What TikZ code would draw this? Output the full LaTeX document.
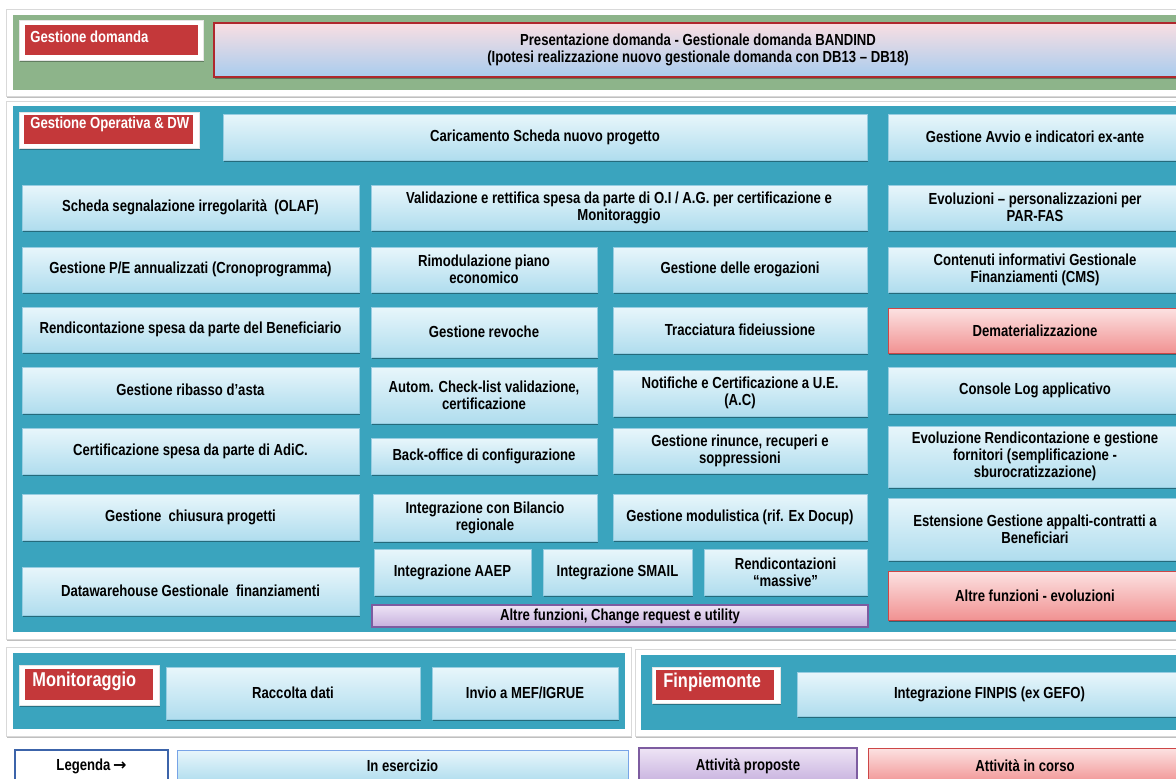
\documentclass[tikz,border=0pt]{standalone}
\usepackage{fontspec}
\setmainfont{Liberation Sans}[FakeStretch=0.82]
\newfontfamily\arrowfont{DejaVu Sans}
\usetikzlibrary{shadows}

\definecolor{panel_green}{RGB}{141,180,138}
\definecolor{panel_teal}{RGB}{58,164,190}
\definecolor{label_red}{RGB}{196,56,58}
\definecolor{box_top}{RGB}{232,246,251}
\definecolor{box_bot}{RGB}{176,221,238}
\definecolor{box_line}{RGB}{150,205,225}
\definecolor{red_top}{RGB}{252,226,226}
\definecolor{red_bot}{RGB}{241,146,146}
\definecolor{red_line}{RGB}{205,70,70}
\definecolor{pur_top}{RGB}{238,228,245}
\definecolor{pur_bot}{RGB}{198,176,222}
\definecolor{pur_line}{RGB}{125,92,160}
\definecolor{pres_top}{RGB}{249,222,226}
\definecolor{pres_bot}{RGB}{168,204,238}
\definecolor{pres_line}{RGB}{175,40,45}
\definecolor{leg_blue}{RGB}{60,100,170}

\begin{document}
\begin{tikzpicture}[x=0.5pt, y=-0.5pt,
    every node/.style={font=\fontsize{8}{8.6}\selectfont\bfseries, align=center, inner sep=1pt},
    box_size/.style 2 args={minimum width=#1*0.5pt, minimum height=#2*0.5pt},
    soft_shadow/.style={drop shadow={shadow xshift=0.5pt, shadow yshift=-1pt, fill=black, opacity=0.35}},
    blue_box/.style={draw=box_line, line width=0.3pt, top color=box_top, bottom color=box_bot, soft_shadow},
    red_box/.style={draw=red_line, line width=0.5pt, top color=red_top, bottom color=red_bot, soft_shadow},
    purple_box/.style={draw=pur_line, line width=0.6pt, top color=pur_top, bottom color=pur_bot},
    frame_white/.style={fill=white, draw=black!15, drop shadow={shadow xshift=0.6pt, shadow yshift=-1pt, fill=black, opacity=0.25}},
    label_white/.style={fill=white, draw=black!10, drop shadow={shadow xshift=0.6pt, shadow yshift=-1pt, fill=black, opacity=0.3}},
    label_red/.style={fill=label_red},
    label_text/.style={text=white, anchor=west, inner sep=2pt}]

\useasboundingbox (0,0) rectangle (1176,778);
\fill[white] (0,0) rectangle (1176,778);

% panels
\draw[frame_white] (6,9) rectangle (1190,96);
\fill[panel_green] (13,15) rectangle (1190,90);
\draw[frame_white] (6,101) rectangle (1190,639);
\fill[panel_teal] (13,106) rectangle (1190,632);
\draw[frame_white] (6,647) rectangle (631,736);
\fill[panel_teal] (13,653) rectangle (625,729);
\draw[frame_white] (635,649) rectangle (1190,736);
\fill[panel_teal] (641,655) rectangle (1190,730);

% Gestione domanda
\node[label_white, box_size={184}{40}] (domw) at (111,40) {};
\node[label_red, box_size={173}{30}] (domr) at (111.5,40) {};
\node[label_text] (domt) at (26,37) {Gestione domanda};
\node[draw=pres_line, line width=0.6pt, top color=pres_top, bottom color=pres_bot, soft_shadow, box_size={968}{54}] (pres) at (698,50)
  {Presentazione domanda - Gestionale domanda BANDIND\\(Ipotesi realizzazione nuovo gestionale domanda con DB13 -- DB18)};

% Gestione Operativa & DW
\node[label_white, box_size={180}{36}] (opw) at (109,130) {};
\node[label_red, box_size={169}{29}] (opr) at (108.5,129.5) {};
\node[label_text] (opt) at (26,124) {Gestione Operativa \& DW};

\node[blue_box, box_size={644}{46}] (car) at (545,137) {Caricamento Scheda nuovo progetto};
\node[blue_box, box_size={294}{46}] (avv) at (1035,137) {Gestione Avvio e indicatori ex-ante};

\node[blue_box, box_size={337}{45}] (olaf) at (190.5,207.5) {Scheda segnalazione irregolarità~ (OLAF)};
\node[blue_box, box_size={496}{45}] (val) at (619,207.5) {Validazione e rettifica spesa da parte di O.I / A.G. per certificazione e\\Monitoraggio};
\node[blue_box, box_size={294}{45}] (evo) at (1035,207.5) {Evoluzioni -- personalizzazioni per\\PAR-FAS};

\node[blue_box, box_size={337}{45}] (pe) at (190.5,269.5) {Gestione P/E annualizzati (Cronoprogramma)};
\node[blue_box, box_size={226}{45}] (rim) at (484,269.5) {Rimodulazione piano\\economico};
\node[blue_box, box_size={254}{45}] (ero) at (740,269.5) {Gestione delle erogazioni};
\node[blue_box, box_size={294}{45}] (cms) at (1035,269.5) {Contenuti informativi Gestionale\\Finanziamenti (CMS)};

\node[blue_box, box_size={337}{45}] (ren) at (190.5,329.5) {Rendicontazione spesa da parte del Beneficiario};
\node[blue_box, box_size={226}{50}] (rev) at (484,332) {Gestione revoche};
\node[blue_box, box_size={254}{46}] (fid) at (740,330) {Tracciatura fideiussione};
\node[red_box, box_size={294}{45}] (dem) at (1035,330.5) {Dematerializzazione};

\node[blue_box, box_size={337}{46}] (rib) at (190.5,390) {Gestione ribasso d’asta};
\node[blue_box, box_size={226}{56}] (chk) at (484,395) {Autom. Check-list validazione,\\certificazione};
\node[blue_box, box_size={254}{46}] (not) at (740,393) {Notifiche e Certificazione a U.E.\\(A.C)};
\node[blue_box, box_size={294}{46}] (log) at (1035,390) {Console Log applicativo};

\node[blue_box, box_size={337}{46}] (adic) at (190.5,451) {Certificazione spesa da parte di AdiC.};
\node[blue_box, box_size={226}{36}] (bo) at (484,456) {Back-office di configurazione};
\node[blue_box, box_size={254}{45}] (rin) at (740,450.5) {Gestione rinunce, recuperi e\\soppressioni};
\node[blue_box, box_size={294}{61}] (evr) at (1035,456.5) {Evoluzione Rendicontazione e gestione\\fornitori (semplificazione -\\sburocratizzazione)};

\node[blue_box, box_size={337}{46}] (chi) at (190.5,517) {Gestione~ chiusura progetti};
\node[blue_box, box_size={224}{47}] (bil) at (485,517.5) {Integrazione con Bilancio\\regionale};
\node[blue_box, box_size={254}{46}] (mod) at (740,517) {Gestione modulistica (rif. Ex Docup)};
\node[blue_box, box_size={294}{62}] (app) at (1035,529) {Estensione Gestione appalti-contratti a\\Beneficiari};

\node[blue_box, box_size={337}{48}] (dw) at (190.5,591) {Datawarehouse Gestionale~ finanziamenti};
\node[blue_box, box_size={157}{46}] (aaep) at (452.5,572) {Integrazione AAEP};
\node[blue_box, box_size={149}{46}] (smail) at (617.5,572) {Integrazione SMAIL};
\node[blue_box, box_size={163}{46}] (mas) at (785.5,572) {Rendicontazioni\\“massive”};
\node[purple_box, box_size={496}{22}] (chg) at (620,616) {Altre funzioni, Change request e utility};
\node[red_box, box_size={294}{49}] (alt) at (1035,595.5) {Altre funzioni - evoluzioni};

% Monitoraggio
\node[label_white, box_size={140}{40}] (monw) at (89,685) {};
\node[label_red, box_size={128}{31}] (monr) at (89,684.5) {};
\node[label_text, font=\fontsize{10}{11}\selectfont\bfseries] (mont) at (28,681) {Monitoraggio};
\node[blue_box, box_size={254}{52}] (rac) at (293,693) {Raccolta dati};
\node[blue_box, box_size={186}{52}] (mef) at (525,693) {Invio a MEF/IGRUE};

% Finpiemonte
\node[label_white, box_size={128}{36}] (finw) at (716,685) {};
\node[label_red, box_size={118}{30}] (finr) at (715,685) {};
\node[label_text, font=\fontsize{10}{11}\selectfont\bfseries] (fint) at (659,682) {Finpiemonte};
\node[blue_box, box_size={385}{44}] (fps) at (989.5,694) {Integrazione FINPIS (ex GEFO)};

% legenda
\node[fill=white, draw=leg_blue, line width=1pt, box_size={153}{32}] (leg) at (91.5,766) {Legenda\,{\arrowfont\bfseries →}};
\node[blue_box, draw=box_line!80!blue, box_size={451}{32}] (ese) at (402.5,766) {In esercizio};
\node[purple_box, box_size={218}{36}] (prop) at (748,766) {Attività proposte};
\node[red_box, box_size={314}{36}] (cor) at (1025,766) {Attività in corso};
\end{tikzpicture}
\end{document}
